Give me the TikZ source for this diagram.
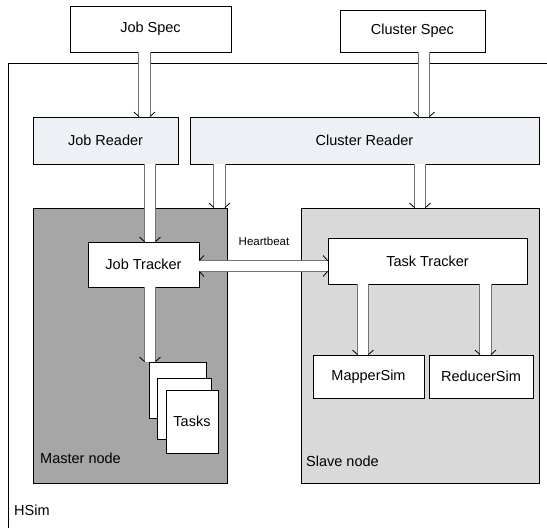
\documentclass[tikz,border=0pt]{standalone}
\usepackage{fontspec}
\setmainfont{Liberation Sans}
\usetikzlibrary{decorations.markings}
\begin{document}
\begin{tikzpicture}[x=1pt,y=-1pt,
    box/.style={draw=black,line width=0.9pt,fill=white,inner sep=0pt,
      font=\fontsize{14.5}{16}\selectfont},
    reader/.style={box,fill=readerfill},
    hollow/.style={draw=black!55,line width=1pt,double=white,double distance=10.5pt,
      postaction={decorate,decoration={markings,
        mark=at position 1 with {\draw[black,line width=0.8pt,double=none]
          (-4.5pt,-10.5pt) -- (0,-5.5pt) (-4.5pt,10.5pt) -- (0,5.5pt);}}}},
    hollowboth/.style={hollow,
      postaction={decorate,decoration={markings,
        mark=at position 0 with {\draw[black,line width=0.8pt,double=none]
          (4.5pt,-10.5pt) -- (0,-5.5pt) (4.5pt,10.5pt) -- (0,5.5pt);}}}},
    lbl/.style={anchor=base west,inner sep=0pt,
      font=\fontsize{14.5}{16}\selectfont}]
  \definecolor{readerfill}{HTML}{EDF0F5}
  \useasboundingbox (0,0) rectangle (547,528);

  % HSim frame
  \draw[line width=0.9pt] (547,63) -- (8,63) -- (8,528);
  \node[lbl] (hsim) at (14,515) {HSim};

  % specs
  \node[box,minimum width=161pt,minimum height=46pt] (jobspec) at (150.5,29) {Job Spec};
  \node[box,minimum width=145pt,minimum height=42pt] (clusterspec) at (412.5,31) {Cluster Spec};

  % readers
  \node[reader,minimum width=145pt,minimum height=47pt] (jobreader) at (105.5,140.5) {Job Reader};
  \node[reader,minimum width=349pt,minimum height=47pt] (clusterreader) at (364.5,140.5) {Cluster Reader};

  % master node
  \node[box,fill=black!35,minimum width=194pt,minimum height=275pt] (master) at (130,345.5) {};
  \node[lbl] (masterlbl) at (40,463) {Master node};
  \node[box,minimum width=111pt,minimum height=45pt] (jobtracker) at (143.5,264.5) {Job Tracker};
  \node[box,minimum width=57pt,minimum height=56pt] (tasksa) at (177.5,390) {};
  \node[box,minimum width=54pt,minimum height=61pt] (tasksb) at (184,408.5) {};
  \node[box,minimum width=52pt,minimum height=63pt] (tasksc) at (192,421.5) {Tasks};

  % slave node
  \node[box,fill=black!15,minimum width=238pt,minimum height=275pt] (slave) at (420,345.5) {};
  \node[lbl] (slavelbl) at (306,466) {Slave node};
  \node[box,minimum width=199pt,minimum height=46pt] (tasktracker) at (427.5,261) {Task Tracker};
  \node[box,minimum width=111pt,minimum height=43pt] (mapper) at (368.5,376.5) {MapperSim};
  \node[box,minimum width=104pt,minimum height=43pt] (reducer) at (481,376.5) {ReducerSim};

  \node[anchor=base,inner sep=0pt,font=\fontsize{11.5}{12}\selectfont] (heartbeat) at (264,245) {Heartbeat};

  % arrows
  \draw[hollow] ([xshift=-6pt]jobspec.south) -- ([xshift=-6pt]jobspec.south |- jobreader.north);
  \draw[hollow] ([xshift=11.5pt]clusterspec.south) -- ([xshift=11.5pt]clusterspec.south |- clusterreader.north);
  \draw[hollow] ([xshift=6.5pt]jobtracker.north |- jobreader.south) -- ([xshift=6.5pt]jobtracker.north);
  \draw[hollow] ([xshift=-8pt]master.north east |- clusterreader.south) -- ([xshift=-8pt]master.north east);
  \draw[hollow] (slave.north |- clusterreader.south) -- (slave.north);
  \draw[hollowboth] ([yshift=-1.5pt]jobtracker.east) -- ([yshift=-1.5pt]jobtracker.east -| tasktracker.west);
  \draw[hollow] ([xshift=6.5pt]jobtracker.south) -- ([xshift=6.5pt]jobtracker.south |- tasksa.north);
  \draw[hollow] ([xshift=-5.5pt]mapper.north |- tasktracker.south) -- ([xshift=-5.5pt]mapper.north);
  \draw[hollow] ([xshift=4.5pt]reducer.north |- tasktracker.south) -- ([xshift=4.5pt]reducer.north);
\end{tikzpicture}
\end{document}
